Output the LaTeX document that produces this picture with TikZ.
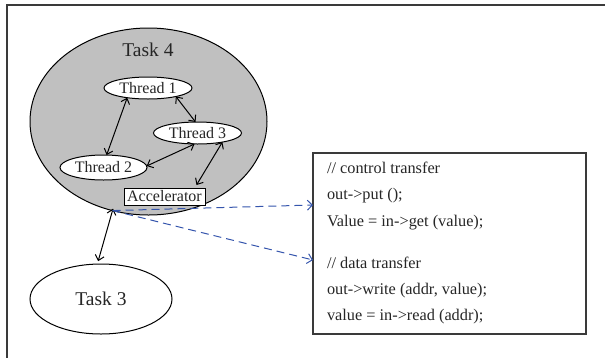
\documentclass[tikz,border=0pt]{standalone}
\usepackage{fontspec}
\setmainfont{Liberation Serif}
\usetikzlibrary{arrows.meta,calc,shapes.geometric}
\definecolor{taskgray}{HTML}{C0C0C0}
\definecolor{linkblue}{HTML}{3555AD}
\definecolor{framegray}{HTML}{3A3A3A}
\definecolor{inkgray}{HTML}{262626}

\begin{document}
\begin{tikzpicture}[x=1pt,y=-1pt,
  every node/.style={inner sep=0pt, outer sep=0pt, text=inkgray},
  taskell/.style={ellipse, draw, line width=1pt, font=\fontsize{19.5}{22}\selectfont},
  threadell/.style={ellipse, draw, fill=white, line width=1pt,
    minimum width=88pt, minimum height=22pt, font=\fontsize{16}{18}\selectfont},
  accelbox/.style={draw, fill=white, line width=1pt, minimum width=81pt,
    minimum height=17pt, font=\fontsize{16}{18}\selectfont},
  link/.style={draw, line width=1pt,
    {Straight Barb[length=5pt,width=9pt]}-{Straight Barb[length=5pt,width=9pt]}},
  flow/.style={draw=linkblue, line width=1pt, dash pattern=on 8pt off 5pt,
    -{Straight Barb[length=5pt,width=10pt]}},
  codeline/.style={anchor=base west, font=\fontsize{16.3}{18}\selectfont}
]
\useasboundingbox (0,0) rectangle (605,357);
\fill[white] (0,0) rectangle (605,357);

% outer frame (top and left edges)
\draw[framegray, line width=1.5pt] (7,360) -- (7,5) -- (610,5);

% Task 4 with its threads
\node[taskell, fill=taskgray, minimum width=237pt, minimum height=187pt] (task4) at (148.5,121.5) {};
\node[font=\fontsize{19.5}{22}\selectfont] (task4label) at (148,50) {Task 4};

\node[threadell] (thread1) at (148,88) {Thread 1};
\node[threadell] (thread3) at (197.5,133) {Thread 3};
\node[threadell, minimum width=87pt, minimum height=25pt] (thread2) at (103.5,167.5) {Thread 2};
\node[accelbox] (accel) at (164.5,196.5) {Accelerator};

\draw[link] (thread1.205) -- (thread2.76);
\draw[link] (thread1.-17) -- (thread3.100);
\draw[link] (thread2.2) -- (thread3.255);
\draw[link] (thread3.-20) -- ([xshift=32pt,yshift=3pt]accel.north);

% Task 3
\node[taskell, minimum width=142pt, minimum height=70pt] (task3) at (101,299) {Task 3};
\draw[link, shorten <=-2pt, shorten >=3pt] (task4.248) -- (task3.96);

% code box
\node[draw=framegray, line width=1.1pt, minimum width=273pt, minimum height=181pt] (code) at (449.5,243.5) {};
\node[codeline] (c1) at (327,173) {// control transfer};
\node[codeline] (c2) at (327,199) {out->put ();};
\node[codeline] (c3) at (327,226) {Value = in->get (value);};
\node[codeline] (c4) at (327,268) {// data transfer};
\node[codeline] (c5) at (327,294) {out->write (addr, value);};
\node[codeline] (c6) at (327,320) {value = in->read (addr);};

% transfers from Task 4 into the code box
\draw[flow] (task4.248) -- ([yshift=38.5pt]code.west);
\draw[flow] (task4.248) -- ([yshift=-16.5pt]code.west);
\end{tikzpicture}
\end{document}
